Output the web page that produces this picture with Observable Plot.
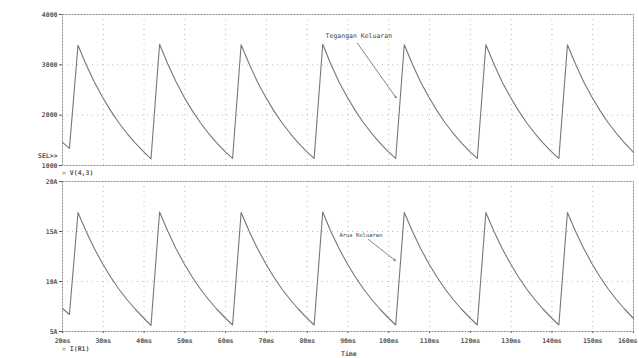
<!DOCTYPE html>
<html>
<head>
<meta charset="utf-8">
<script src="https://cdn.jsdelivr.net/npm/d3@7"></script>
<script src="https://cdn.jsdelivr.net/npm/@observablehq/plot@0.6"></script>
<style>
  body { margin: 0; background: white; }
  #wrap { position: relative; width: 639px; height: 358px; background: white; overflow: hidden; }
  #wrap svg { position: absolute; left: 0; }
  .lbl { position: absolute; font-family: "DejaVu Sans Mono", monospace; font-size: 6.5px; font-weight: bold; color: #555; white-space: nowrap; line-height: 1; z-index: 5; }
</style>
</head>
<body>
<div id="wrap"></div>
<script>
// ---- data ----
const timeMs = [
  20, 21.7,
  23.8, 25.8, 27.8, 29.8, 31.8, 33.8, 35.8, 37.8, 39.8, 41.7,
  43.8, 45.8, 47.8, 49.8, 51.8, 53.8, 55.8, 57.8, 59.8, 61.7,
  63.8, 65.8, 67.8, 69.8, 71.8, 73.8, 75.8, 77.8, 79.8, 81.7,
  83.8, 85.8, 87.8, 89.8, 91.8, 93.8, 95.8, 97.8, 99.8, 101.7,
  103.8, 105.8, 107.8, 109.8, 111.8, 113.8, 115.8, 117.8, 119.8, 121.7,
  123.8, 125.8, 127.8, 129.8, 131.8, 133.8, 135.8, 137.8, 139.8, 141.7,
  143.8, 145.8, 147.8, 149.8, 151.8, 153.8, 155.8, 157.8, 160
];
const voltage = [
  1460, 1340,
  3390, 3000, 2660, 2360, 2090, 1850, 1640, 1450, 1280, 1130,
  3410, 3020, 2670, 2360, 2090, 1850, 1640, 1450, 1280, 1140,
  3400, 3010, 2660, 2360, 2090, 1850, 1640, 1450, 1280, 1140,
  3410, 3010, 2660, 2360, 2090, 1850, 1640, 1450, 1280, 1140,
  3400, 3010, 2660, 2360, 2090, 1850, 1640, 1450, 1280, 1140,
  3400, 3010, 2660, 2360, 2090, 1850, 1640, 1450, 1280, 1140,
  3400, 3010, 2660, 2360, 2090, 1850, 1640, 1450, 1260
];
const current = [
  7.3, 6.7,
  16.9, 15.0, 13.3, 11.8, 10.45, 9.25, 8.2, 7.25, 6.4, 5.6,
  16.95, 15.05, 13.3, 11.8, 10.45, 9.25, 8.2, 7.25, 6.4, 5.65,
  16.9, 15.0, 13.3, 11.8, 10.45, 9.25, 8.2, 7.25, 6.4, 5.65,
  16.95, 15.0, 13.3, 11.8, 10.45, 9.25, 8.2, 7.25, 6.4, 5.65,
  16.9, 15.0, 13.3, 11.8, 10.45, 9.25, 8.2, 7.25, 6.4, 5.65,
  16.9, 15.0, 13.3, 11.8, 10.45, 9.25, 8.2, 7.25, 6.4, 5.65,
  16.9, 15.0, 13.3, 11.8, 10.45, 9.25, 8.2, 7.25, 6.3
];
const xTicks = [20, 30, 40, 50, 60, 70, 80, 90, 100, 110, 120, 130, 140, 150, 160];
const xTickLabels = ["20ms","30ms","40ms","50ms","60ms","70ms","80ms","90ms","100ms","110ms","120ms","130ms","140ms","150ms","160ms"];
const vTicks = [1000, 2000, 3000, 4000];
const vTickLabels = ["1000", "2000", "3000", "4000"];
const aTicks = [5, 10, 15, 20];
const aTickLabels = ["5A", "10A", "15A", "20A"];
const vNote = {text: "Tegangan Keluaran", x: 84.5, y: 3583, x1: 92.3, y1: 3430, x2: 101.8, y2: 2345};
const aNote = {text: "Arus Keluaran", x: 87.9, y: 14.6, x1: 95.0, y1: 14.2, x2: 101.6, y2: 12.1};

const vData = timeMs.map((t, i) => ({t, v: voltage[i]}));
const aData = timeMs.map((t, i) => ({t, a: current[i]}));
const xLabelData = xTicks.map((t, i) => ({t, label: xTickLabels[i]}));

const W = 639;
const lineColor = "#777";
const gridColor = "#bdbdbd";
const frameColor = "#8a8a8a";
const baseStyle = {fontFamily: "'DejaVu Sans Mono', monospace", fontSize: "6.5px", fontWeight: "bold", color: "#555", background: "white", overflow: "visible"};
const innerX = xTicks.slice(1, -1);

// ---- top panel: voltage ----
const topPlot = Plot.plot({
  width: W, height: 168,
  marginLeft: 62, marginRight: 6, marginTop: 14, marginBottom: 3,
  style: baseStyle,
  x: {domain: [20, 160], axis: null},
  y: {domain: [1000, 4000], ticks: vTicks, tickSize: 3, tickPadding: 2,
      tickFormat: d => vTickLabels[vTicks.indexOf(d)], label: null},
  marks: [
    Plot.ruleX(innerX, {stroke: gridColor, strokeDasharray: "1,4"}),
    Plot.ruleY([2000, 3000], {stroke: gridColor, strokeDasharray: "1,4"}),
    Plot.frame({stroke: frameColor, strokeDasharray: "2,1"}),
    Plot.line(vData, {x: "t", y: "v", stroke: lineColor, strokeWidth: 1.1}),
    Plot.text([vNote], {x: "x", y: "y", text: "text", textAnchor: "start", fontSize: 6.5, fontWeight: "normal", fill: "#444", style: "letter-spacing:0.5px"}),
    Plot.arrow([vNote], {x1: "x1", y1: "y1", x2: "x2", y2: "y2", stroke: "#666", strokeWidth: 0.8, headLength: 3})
  ]
});
topPlot.style.top = "0px";

// ---- bottom panel: current ----
const bottomPlot = Plot.plot({
  width: W, height: 190,
  marginLeft: 62, marginRight: 6, marginTop: 13, marginBottom: 27,
  style: baseStyle,
  x: {domain: [20, 160], ticks: xTicks, tickSize: 2, tickPadding: 2,
      tickFormat: () => "", label: null},
  y: {domain: [5, 20], ticks: aTicks, tickSize: 3, tickPadding: 2,
      tickFormat: d => aTickLabels[aTicks.indexOf(d)], label: null},
  marks: [
    Plot.ruleX(innerX, {stroke: gridColor, strokeDasharray: "1,4"}),
    Plot.ruleY([10, 15], {stroke: gridColor, strokeDasharray: "1,4"}),
    Plot.frame({stroke: frameColor, strokeDasharray: "2,1"}),
    Plot.line(aData, {x: "t", y: "a", stroke: lineColor, strokeWidth: 1.1}),
    Plot.text(xLabelData.slice(0, -1), {x: "t", y: () => 5, text: "label", dy: 9, fill: "#555"}),
    Plot.text(xLabelData.slice(-1), {x: "t", y: () => 5, text: "label", dy: 9, dx: 4, textAnchor: "end", fill: "#555"}),
    Plot.text([aNote], {x: "x", y: "y", text: "text", textAnchor: "start", fontSize: 5.5, fontWeight: "normal", fill: "#444"}),
    Plot.arrow([aNote], {x1: "x1", y1: "y1", x2: "x2", y2: "y2", stroke: "#666", strokeWidth: 0.8, headLength: 3})
  ]
});
bottomPlot.style.top = "168px";

const wrap = document.getElementById("wrap");
wrap.appendChild(topPlot);
wrap.appendChild(bottomPlot);

function addLabel(text, left, topPx) {
  const d = document.createElement("div");
  d.className = "lbl";
  d.textContent = text;
  d.style.left = left + "px";
  d.style.top = topPx + "px";
  wrap.appendChild(d);
}
addLabel("SEL>>", 38, 153);
addLabel("\u25AB V(4,3)", 62, 170);
addLabel("\u25AB I(R1)", 62, 346);
addLabel("Time", 341, 351);
</script>
</body>
</html>
